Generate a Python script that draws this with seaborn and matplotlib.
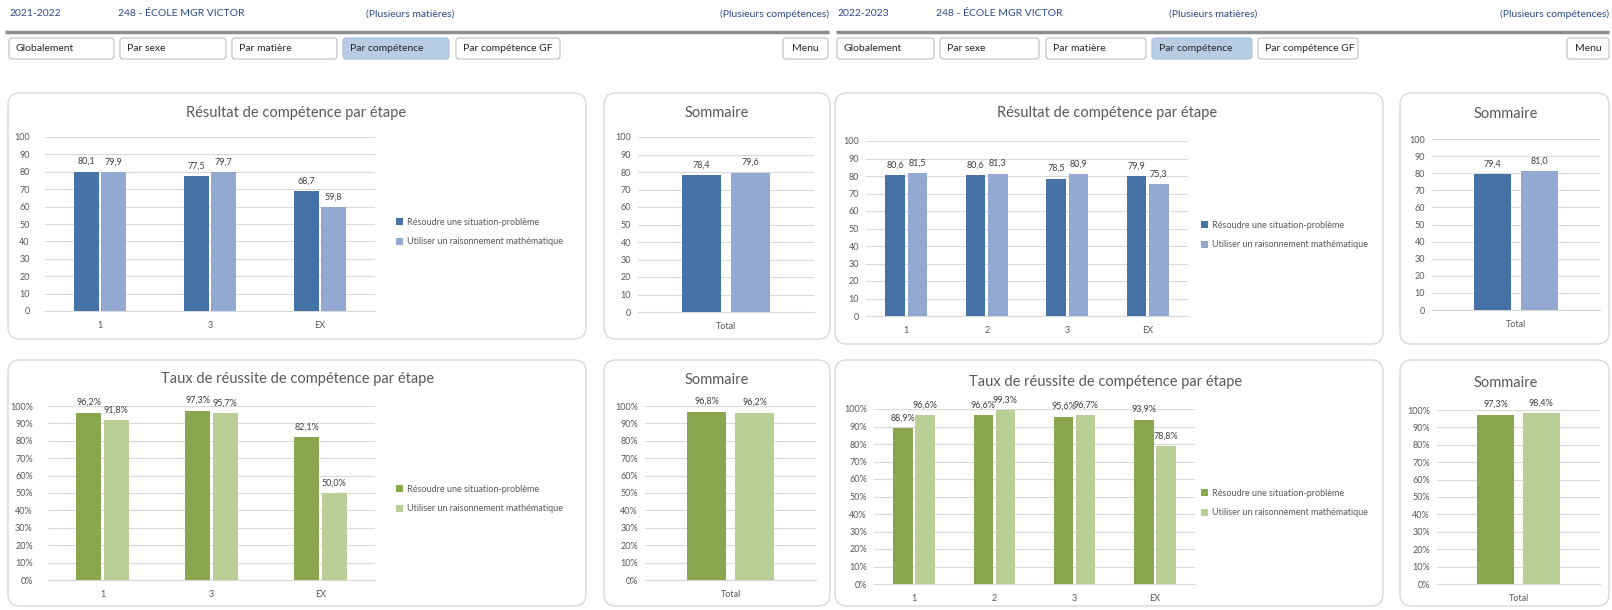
import matplotlib
matplotlib.use("Agg")   # headless
import matplotlib.pyplot as plt
from matplotlib.patches import FancyBboxPatch
import pandas as pd
import seaborn as sns

# -- data ----------------------------------------------------------------------
ANNEES = ["2021-2022", "2022-2023"]
ECOLE = "248 - ÉCOLE MGR VICTOR"
MATIERES = "(Plusieurs matières)"
COMPS_TXT = "(Plusieurs compétences)"
BOUTONS = ["Globalement", "Par sexe", "Par matière", "Par compétence", "Par compétence GF"]
COMPETENCES = ["Résoudre une situation-problème", "Utiliser un raisonnement mathématique"]
TITRE_RES = "Résultat de compétence par étape"
TITRE_TAUX = "Taux de réussite de compétence par étape"
TITRE_SOM = "Sommaire"

ETAPES_2122 = ["1", "3", "EX"]
RES_RESOUDRE_2122 = [80.1, 77.5, 68.7]
RES_UTILISER_2122 = [79.9, 79.7, 59.8]
SOM_RES_2122 = [78.4, 79.6]
TAUX_RESOUDRE_2122 = [96.2, 97.3, 82.1]
TAUX_UTILISER_2122 = [91.8, 95.7, 50.0]
SOM_TAUX_2122 = [96.8, 96.2]

ETAPES_2223 = ["1", "2", "3", "EX"]
RES_RESOUDRE_2223 = [80.6, 80.6, 78.5, 79.9]
RES_UTILISER_2223 = [81.5, 81.3, 80.9, 75.3]
SOM_RES_2223 = [79.4, 81.0]
TAUX_RESOUDRE_2223 = [88.9, 96.6, 95.6, 93.9]
TAUX_UTILISER_2223 = [96.6, 99.3, 96.7, 78.8]
SOM_TAUX_2223 = [97.3, 98.4]

# -- colours -------------------------------------------------------------------
BLUE = ["#4572A7", "#94A9D1"]
GREEN = ["#8AA64E", "#B9CF95"]
C_TEXT = "#595959"
C_GRID = "#D9D9D9"
C_HEAD = "#2B4C8C"

sns.set_style("white")
plt.rcParams["font.family"] = ["Lato", "DejaVu Sans"]

W, H = 1612, 610
fig = plt.figure(figsize=(W / 100, H / 100), dpi=100)

# background axes in pixel coordinates (y grows downwards)
bg = fig.add_axes([0, 0, 1, 1])
bg.set_xlim(0, W)
bg.set_ylim(H, 0)
bg.axis("off")


def box(x0, y0, x1, y1, r, fc="white", ec=C_GRID, lw=1.0):
    bg.add_patch(FancyBboxPatch((x0, y0), x1 - x0, y1 - y0,
                                boxstyle=f"round,pad=0,rounding_size={r}",
                                fc=fc, ec=ec, lw=lw))


def long_df(etapes, resoudre, utiliser):
    return pd.DataFrame({
        "etape": list(etapes) * 2,
        "competence": [COMPETENCES[0]] * len(etapes) + [COMPETENCES[1]] * len(etapes),
        "valeur": list(resoudre) + list(utiliser),
    })


def fr(v, pct):
    s = f"{v:.1f}".replace(".", ",")
    return s + "%" if pct else s


def chart(df, rect, colors, pct, width, gap, ypad, legend_at=None):
    x0, y0, x1, y1 = rect
    ax = fig.add_axes([x0 / W, 1 - y1 / H, (x1 - x0) / W, (y1 - y0) / H])
    ax.set_facecolor("none")
    sns.barplot(data=df, x="etape", y="valeur", hue="competence", palette=colors,
                width=width, gap=gap, saturation=1, errorbar=None, linewidth=0,
                legend=legend_at is not None, ax=ax, zorder=3)
    for cont in ax.containers:
        ax.bar_label(cont, labels=[fr(v, pct) for v in cont.datavalues],
                     padding=4, fontsize=6.5, color="#404040")
    ax.set_ylim(0, 100)
    ticks = list(range(0, 101, 10))
    ax.set_yticks(ticks)
    ax.set_yticklabels([f"{t}%" if pct else str(t) for t in ticks])
    ax.tick_params(length=0, labelsize=6.5, labelcolor=C_TEXT)
    ax.tick_params(axis="y", pad=ypad)
    ax.tick_params(axis="x", pad=7)
    ax.grid(axis="y", color=C_GRID, lw=0.8)
    ax.set_axisbelow(True)
    for s in ["left", "right", "top"]:
        ax.spines[s].set_visible(False)
    ax.spines["bottom"].set_color(C_GRID)
    ax.set_xlabel("")
    ax.set_ylabel("")
    if legend_at is not None:
        lx, ly = legend_at
        sns.move_legend(ax, "center left",
                        bbox_to_anchor=((lx - x0) / (x1 - x0), (y1 - ly) / (y1 - y0)),
                        frameon=False, title=None, fontsize=6.5,
                        handlelength=0.8, handleheight=0.8, handletextpad=0.4,
                        labelspacing=1.2, borderaxespad=0, borderpad=0)
        for t in ax.get_legend().get_texts():
            t.set_color(C_TEXT)
    return ax


# -- header, buttons -----------------------------------------------------------
HEAD = [
    dict(x=[9, 118, 366], xr=829, line=(5, 829),
         btn=[(9, 114), (120, 226), (232, 337), (343, 449), (456, 560)], menu=(783, 828)),
    dict(x=[837, 936, 1169], xr=1609, line=(836, 1609),
         btn=[(837, 934), (940, 1039), (1046, 1146), (1152, 1252), (1258, 1358)], menu=(1567, 1609)),
]
for annee, h in zip(ANNEES, HEAD):
    for txt, xx in zip([annee, ECOLE, MATIERES], h["x"]):
        bg.text(xx, 14, txt, fontsize=7.5, color=C_HEAD, va="center", ha="left")
    bg.text(h["xr"], 14, COMPS_TXT, fontsize=7.5, color=C_HEAD, va="center", ha="right")
    bg.plot(h["line"], [32, 32], color="#8C8C8C", lw=2.5, solid_capstyle="butt")
    for lbl, (bx0, bx1) in zip(BOUTONS, h["btn"]):
        active = lbl == "Par compétence"
        box(bx0, 38, bx1, 59, 3, fc="#B8CCE4" if active else "white",
            ec="#A9BEDC" if active else "#BFBFBF", lw=0.8)
        bg.text(bx0 + 7, 48.5, lbl, fontsize=7.5, color="#262626", va="center", ha="left")
    mx0, mx1 = h["menu"]
    box(mx0, 38, mx1, 59, 3, ec="#BFBFBF", lw=0.8)
    bg.text((mx0 + mx1) / 2, 48.5, "Menu", fontsize=7.5, color="#262626", va="center", ha="center")

# -- panels ---------------------------------------------------------------------
PANELS = [
    # (box, title, title xy)
    ((8, 93, 586, 339), TITRE_RES, (296, 113)),
    ((604, 93, 830, 339), TITRE_SOM, (717, 113)),
    ((8, 360, 586, 606), TITRE_TAUX, (298, 379)),
    ((604, 360, 830, 606), TITRE_SOM, (717, 380)),
    ((835, 93, 1383, 344), TITRE_RES, (1107, 113)),
    ((1400, 93, 1609, 344), TITRE_SOM, (1506, 114)),
    ((835, 360, 1383, 606), TITRE_TAUX, (1106, 382)),
    ((1400, 360, 1609, 606), TITRE_SOM, (1506, 383)),
]
for (bx0, by0, bx1, by1), titre, (tx, ty) in PANELS:
    box(bx0, by0, bx1, by1, 12)
    bg.text(tx, ty, titre, fontsize=10.5, color=C_TEXT, ha="center", va="center")

# -- charts ---------------------------------------------------------------------
chart(long_df(ETAPES_2122, RES_RESOUDRE_2122, RES_UTILISER_2122),
      (45, 137, 375, 311), BLUE, False, 0.5, 0.08, 11, legend_at=(396, 232))
chart(long_df(["Total"], SOM_RES_2122[:1], SOM_RES_2122[1:]),
      (638, 137, 814, 312), BLUE, False, 0.56, 0.2, 5)
chart(long_df(ETAPES_2122, TAUX_RESOUDRE_2122, TAUX_UTILISER_2122),
      (48, 406, 375, 580), GREEN, True, 0.5, 0.08, 11, legend_at=(396, 499))
chart(long_df(["Total"], SOM_TAUX_2122[:1], SOM_TAUX_2122[1:]),
      (645, 406, 816, 580), GREEN, True, 0.56, 0.2, 5)

chart(long_df(ETAPES_2223, RES_RESOUDRE_2223, RES_UTILISER_2223),
      (866, 141, 1188, 316), BLUE, False, 0.55, 0.12, 5, legend_at=(1201, 235))
chart(long_df(["Total"], SOM_RES_2223[:1], SOM_RES_2223[1:]),
      (1432, 139, 1600, 310), BLUE, False, 0.56, 0.2, 5)
chart(long_df(ETAPES_2223, TAUX_RESOUDRE_2223, TAUX_UTILISER_2223),
      (874, 409, 1195, 584), GREEN, True, 0.55, 0.12, 5, legend_at=(1201, 503))
chart(long_df(["Total"], SOM_TAUX_2223[:1], SOM_TAUX_2223[1:]),
      (1437, 410, 1600, 584), GREEN, True, 0.56, 0.2, 5)

fig.savefig("out.png", dpi=100, facecolor="white")
plt.close(fig)
